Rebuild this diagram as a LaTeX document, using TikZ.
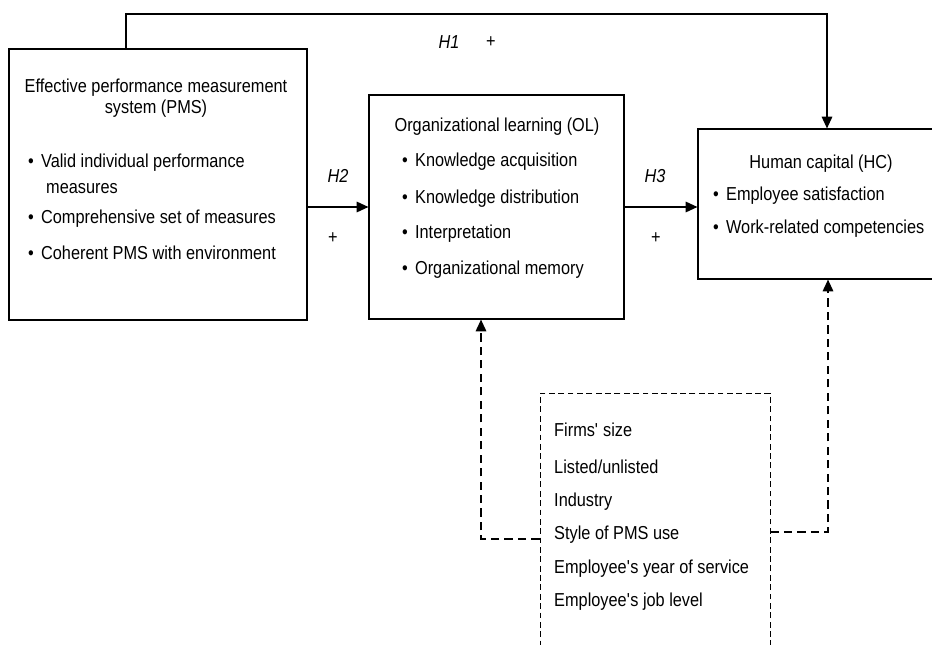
\documentclass[tikz,border=0pt]{standalone}
\usepackage{fontspec}
\setmainfont{Liberation Sans}[FakeStretch=0.87]
\usetikzlibrary{arrows.meta}
\pgfdeclarelayer{edgelayer}
\pgfdeclarelayer{nodelayer}
\pgfsetlayers{edgelayer,nodelayer,main}
\tikzset{font=\fontsize{16pt}{19pt}\selectfont}
\tikzstyle{box}=[rectangle,draw,line width=1pt,inner sep=0pt]
\tikzstyle{dbox}=[rectangle,draw,line width=0.8pt,dash pattern=on 5pt off 3pt,inner sep=0pt]
\tikzstyle{txt}=[anchor=base west,inner sep=0pt]
\tikzstyle{ctxt}=[anchor=base,inner sep=0pt]
\tikzstyle{hyp}=[anchor=base,inner sep=0pt,font=\fontsize{16pt}{19pt}\selectfont\itshape]
\tikzstyle{arr}=[line width=1.1pt,-{Triangle[length=10pt,width=9pt]}]
\tikzstyle{darr}=[line width=1.2pt,dash pattern=on 7pt off 4.5pt,-{Triangle[length=10pt,width=9pt]}]
\newcommand{\bul}{\makebox[11pt][l]{\textbullet}}

\begin{document}
\begin{tikzpicture}[x=0.03cm,y=-0.03cm]
	\clip (0,0) rectangle (932,644);
	\begin{pgfonlayer}{nodelayer}
		% boxes
		\node [style=box, minimum width=8.94cm, minimum height=8.13cm] (pms) at (158, 184.5) {};
		\node [style=box, minimum width=7.65cm, minimum height=6.72cm] (ol) at (496.5, 207) {};
		\node [style=box, minimum width=7.41cm, minimum height=4.5cm] (hc) at (821.5, 204) {};
		\node [style=dbox, minimum width=6.9cm, minimum height=8.01cm] (cov) at (655, 526.5) {};
		% PMS text
		\node [style=ctxt] (0) at (156, 92) {Effective performance measurement};
		\node [style=ctxt] (1) at (156, 113) {system (PMS)};
		\node [style=txt] (2) at (28, 167) {\bul Valid individual performance};
		\node [style=txt] (3) at (46, 193) {measures};
		\node [style=txt] (4) at (28, 223) {\bul Comprehensive set of measures};
		\node [style=txt] (5) at (28, 259) {\bul Coherent PMS with environment};
		% OL text
		\node [style=ctxt] (6) at (497, 131) {Organizational learning (OL)};
		\node [style=txt] (7) at (402, 166) {\bul Knowledge acquisition};
		\node [style=txt] (8) at (402, 203) {\bul Knowledge distribution};
		\node [style=txt] (9) at (402, 238) {\bul Interpretation};
		\node [style=txt] (10) at (402, 274) {\bul Organizational memory};
		% HC text
		\node [style=ctxt] (11) at (821, 168) {Human capital (HC)};
		\node [style=txt] (12) at (713, 200) {\bul Employee satisfaction};
		\node [style=txt] (13) at (713, 233) {\bul Work-related competencies};
		% control variables
		\node [style=txt] (14) at (554, 436) {Firms\textquotesingle{} size};
		\node [style=txt] (15) at (554, 473) {Listed/unlisted};
		\node [style=txt] (16) at (554, 506) {Industry};
		\node [style=txt] (17) at (554, 539) {Style of PMS use};
		\node [style=txt] (18) at (554, 573) {Employee\textquotesingle s year of service};
		\node [style=txt] (19) at (554, 606) {Employee\textquotesingle s job level};
		% hypotheses
		\node [style=hyp] (20) at (449, 48) {H1};
		\node [inner sep=0pt] (21) at (491, 42) {+};
		\node [style=hyp] (22) at (338, 182) {H2};
		\node [inner sep=0pt] (23) at (333, 238) {+};
		\node [style=hyp] (24) at (655, 182) {H3};
		\node [inner sep=0pt] (25) at (656, 238) {+};
		% bends
		\coordinate (26) at (126, 14);
		\coordinate (27) at (827, 14);
		\coordinate (28) at (481, 539);
		\coordinate (29) at (828, 532);
	\end{pgfonlayer}
	\begin{pgfonlayer}{edgelayer}
		\draw[style=arr] (26 |- pms.north) -- (26) -- (27) -- (27 |- hc.north);
		\draw[style=arr] (pms.east |- ol.west) -- (ol.west);
		\draw[style=arr] (ol.east) -- (ol.east -| hc.west);
		\draw[style=darr] (cov.west |- 28) -- (28) -- (28 |- ol.south);
		\draw[style=darr] (cov.east |- 29) -- (29) -- (29 |- hc.south);
	\end{pgfonlayer}
\end{tikzpicture}
\end{document}
